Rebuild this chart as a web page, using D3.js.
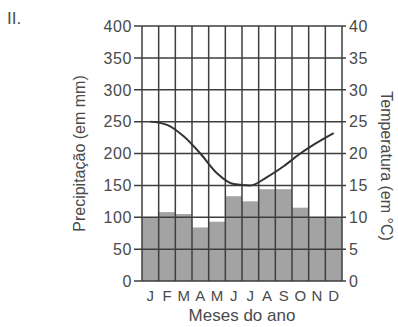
<!DOCTYPE html>
<html>
<head>
<meta charset="utf-8">
<script src="https://cdn.jsdelivr.net/npm/d3@7"></script>
<style>
  html, body { margin: 0; padding: 0; background: #fff; }
  svg { display: block; }
  text { font-family: "Liberation Sans", Arial, sans-serif; fill: #4a4a4a; }
</style>
</head>
<body>
<svg id="chart" width="398" height="327"></svg>
<script>
// Monthly climate data
const months = ["J", "F", "M", "A", "M", "J", "J", "A", "S", "O", "N", "D"];
const precipitation = [100, 108, 105, 84, 93, 133, 125, 144, 144, 115, 100, 100]; // mm
const temperature = [25, 24.5, 22.7, 20, 16.9, 15.2, 15, 16.3, 18, 20, 21.7, 23.2]; // °C
const precipTicks = [0, 50, 100, 150, 200, 250, 300, 350, 400];
const tempTicks = [0, 5, 10, 15, 20, 25, 30, 35, 40];

const svg = d3.select("#chart");
const plotLeft = 142, plotRight = 342, plotTop = 26, plotBottom = 281;

const x = d3.scaleBand().domain(d3.range(months.length)).range([plotLeft, plotRight]).padding(0);
const yP = d3.scaleLinear().domain([0, 400]).range([plotBottom, plotTop]);
const yT = d3.scaleLinear().domain([0, 40]).range([plotBottom, plotTop]);

// Precipitation bars
svg.append("g").selectAll("rect")
  .data(precipitation)
  .join("rect")
  .attr("x", (d, i) => x(i))
  .attr("y", d => yP(d))
  .attr("width", x.bandwidth())
  .attr("height", d => yP(0) - yP(d))
  .attr("fill", "#a3a3a3");

const gridColor = "#3e3e3e";

// Horizontal grid lines (with left and right tick extensions)
svg.append("g").selectAll("line")
  .data(precipTicks)
  .join("line")
  .attr("x1", plotLeft - 8)
  .attr("x2", plotRight + 4)
  .attr("y1", d => yP(d))
  .attr("y2", d => yP(d))
  .attr("stroke", gridColor)
  .attr("stroke-width", 1.5);

// Vertical grid lines at month boundaries
const bounds = d3.range(months.length + 1).map(i => i < months.length ? x(i) : plotRight);
svg.append("g").selectAll("line")
  .data(bounds)
  .join("line")
  .attr("x1", d => d)
  .attr("x2", d => d)
  .attr("y1", plotTop)
  .attr("y2", plotBottom)
  .attr("stroke", gridColor)
  .attr("stroke-width", 1.5);

// Left axis labels
svg.append("g").selectAll("text")
  .data(precipTicks)
  .join("text")
  .attr("x", plotLeft - 10)
  .attr("y", d => yP(d))
  .attr("dy", "0.36em")
  .attr("text-anchor", "end")
  .attr("font-size", 16)
  .attr("letter-spacing", 0.6)
  .text(d => d);

// Right axis labels
svg.append("g").selectAll("text")
  .data(tempTicks)
  .join("text")
  .attr("x", plotRight + 7)
  .attr("y", d => yT(d))
  .attr("dy", "0.36em")
  .attr("text-anchor", "start")
  .attr("font-size", 16)
  .attr("letter-spacing", 0.6)
  .text(d => d);

// Month labels
svg.append("g").selectAll("text")
  .data(months)
  .join("text")
  .attr("x", (d, i) => x(i) + x.bandwidth() / 2)
  .attr("y", 301)
  .attr("text-anchor", "middle")
  .attr("font-size", 15)
  .text(d => d);

// Temperature curve
const line = d3.line()
  .x((d, i) => x(i) + x.bandwidth() / 2)
  .y(d => yT(d))
  .curve(d3.curveMonotoneX);

svg.append("path")
  .datum(temperature)
  .attr("d", line)
  .attr("fill", "none")
  .attr("stroke", "#333")
  .attr("stroke-width", 2);

// Axis titles
svg.append("text")
  .attr("transform", `translate(85,${(plotTop + plotBottom) / 2}) rotate(-90)`)
  .attr("text-anchor", "middle")
  .attr("font-size", 16)
  .text("Precipitação (em mm)");

svg.append("text")
  .attr("transform", `translate(381,166) rotate(90)`)
  .attr("text-anchor", "middle")
  .attr("font-size", 16)
  .text("Temperatura (em °C)");

svg.append("text")
  .attr("x", (plotLeft + plotRight) / 2)
  .attr("y", 321)
  .attr("text-anchor", "middle")
  .attr("font-size", 17)
  .text("Meses do ano");

// Panel label
svg.append("text")
  .attr("x", 7)
  .attr("y", 24)
  .attr("font-size", 17)
  .text("II.");
</script>
</body>
</html>
